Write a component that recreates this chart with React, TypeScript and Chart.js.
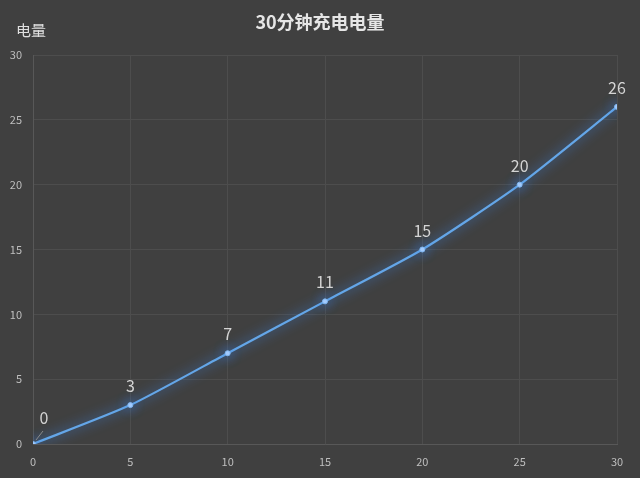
import React, { useEffect, useRef } from "react";
import { Chart, registerables } from "chart.js";

Chart.register(...registerables);

const minutes = [0, 5, 10, 15, 20, 25, 30];
const charge = [0, 3, 7, 11, 15, 20, 26];
const titleText = "30分钟充电电量";
const yAxisTitle = "电量";

const FONT = "'Noto Sans CJK SC', 'Noto Sans', sans-serif";

const glowPlugin = {
  id: "glowAndLabels",
  beforeDraw(chart: any) {
    const ctx = chart.ctx;
    ctx.save();
    ctx.fillStyle = "#404040";
    ctx.fillRect(0, 0, chart.width, chart.height);
    ctx.restore();
  },
  beforeDatasetDraw(chart: any) {
    const ctx = chart.ctx;
    ctx.save();
    ctx.shadowColor = "rgba(60,135,235,1)";
    ctx.shadowBlur = 12;
  },
  afterDatasetDraw(chart: any) {
    chart.ctx.restore();
  },
  afterDraw(chart: any) {
    const ctx = chart.ctx;
    ctx.save();
    // title
    ctx.fillStyle = "#e6e6e6";
    ctx.font = `bold 18px ${FONT}`;
    ctx.textAlign = "center";
    ctx.textBaseline = "middle";
    ctx.fillText(titleText, 320, 22);
    // y axis title
    ctx.font = `15px ${FONT}`;
    ctx.fillStyle = "#e0e0e0";
    ctx.textAlign = "left";
    ctx.fillText(yAxisTitle, 16, 30);
    // data labels
    const meta = chart.getDatasetMeta(0);
    ctx.font = `16px ${FONT}`;
    ctx.fillStyle = "#d4d4d4";
    ctx.textAlign = "center";
    ctx.textBaseline = "middle";
    meta.data.forEach((pt: any, i: number) => {
      const label = String(charge[i]);
      if (i === 0) {
        ctx.strokeStyle = "#8a8a8a";
        ctx.lineWidth = 1;
        ctx.beginPath();
        ctx.moveTo(pt.x + 3, pt.y - 4);
        ctx.lineTo(pt.x + 10, pt.y - 13);
        ctx.stroke();
        ctx.fillText(label, pt.x + 11, pt.y - 26);
      } else {
        ctx.fillText(label, pt.x, pt.y - 19);
      }
    });
    ctx.restore();
  },
};

export default function App() {
  const ref = useRef<HTMLCanvasElement>(null);
  useEffect(() => {
    document.body.style.margin = "0";
    const chart = new Chart(ref.current as HTMLCanvasElement, {
      type: "line",
      data: {
        datasets: [
          {
            data: minutes.map((m, i) => ({ x: m, y: charge[i] })),
            borderColor: "#64a6e8",
            borderWidth: 2.2,
            tension: 0.2,
            pointRadius: 2.5,
            pointBackgroundColor: "#a9d0ff",
            pointBorderColor: "#7fb5f0",
            pointBorderWidth: 1,
          },
        ],
      },
      options: {
        animation: false,
        responsive: false,
        devicePixelRatio: 1,
        layout: { padding: { top: 55, right: 23, left: 0, bottom: 0 } },
        plugins: { legend: { display: false }, tooltip: { enabled: false }, title: { display: false } },
        scales: {
          x: {
            type: "linear",
            min: 0,
            max: 30,
            ticks: { stepSize: 5, color: "#bfbfbf", font: { size: 11, family: FONT }, padding: 11 },
            grid: { color: "#4d4d4d", drawTicks: false },
            border: { color: "#585858" },
            afterFit(scale: any) {
              scale.height = 34;
            },
          },
          y: {
            min: 0,
            max: 30,
            ticks: { stepSize: 5, color: "#bfbfbf", font: { size: 11, family: FONT }, padding: 11 },
            grid: { color: "#4d4d4d", drawTicks: false },
            border: { color: "#585858" },
            afterFit(scale: any) {
              scale.width = 33;
            },
          },
        },
      },
      plugins: [glowPlugin],
    } as any);
    return () => chart.destroy();
  }, []);
  return (
    <div style={{ position: "absolute", left: 0, top: 0, width: 640, height: 478 }}>
      <canvas ref={ref} width={640} height={478} />
    </div>
  );
}
